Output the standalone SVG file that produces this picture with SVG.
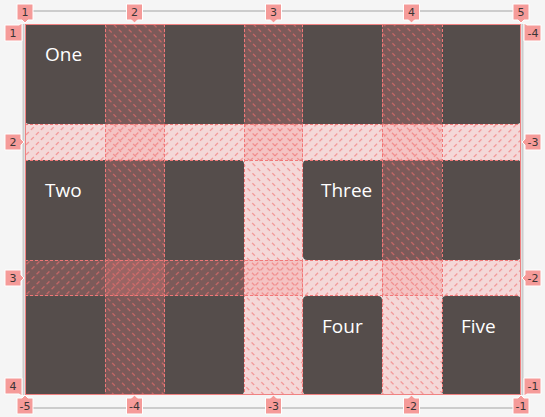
<svg xmlns="http://www.w3.org/2000/svg" width="545" height="417" viewBox="0 0 545 417">
  <defs>
    <pattern id="hatchCol" patternUnits="userSpaceOnUse" width="7" height="7.071" patternTransform="rotate(45)">
      <rect x="0" y="0" width="4" height="1.1" fill="rgb(240,110,110)" fill-opacity="0.75"/>
    </pattern>
    <pattern id="hatchRow" patternUnits="userSpaceOnUse" width="7" height="7.071" patternTransform="rotate(-45)">
      <rect x="0" y="0" width="4" height="1.1" fill="rgb(240,110,110)" fill-opacity="0.75"/>
    </pattern>
    <style>
      .item { fill: #554d4b; }
      .itxt { font-family: "Open Sans", "DejaVu Sans", sans-serif; font-size: 19px; fill: #ffffff; }
      .gap { fill: rgb(245,130,130); fill-opacity: 0.25; }
      .dash { stroke: rgb(240,120,120); stroke-width: 1; stroke-dasharray: 3 2; fill: none; }
      .track { stroke: #cccccc; stroke-width: 2; fill: none; }
      .lbl { fill: #f59b99; stroke: #ffffff; stroke-width: 1; }
      .ltxt { font-family: "DejaVu Sans", sans-serif; font-size: 11px; fill: #3a3535; text-anchor: middle; }
    </style>
  </defs>

  <rect x="0" y="0" width="545" height="417" fill="#f5f5f5"/>

  <!-- rulers -->
  <g id="rulers">
    <line class="track" x1="25" y1="11" x2="521" y2="11"/>
    <line class="track" x1="25" y1="408" x2="521" y2="408"/>
    <line class="track" x1="23.5" y1="24" x2="23.5" y2="395"/>
    <line class="track" x1="522.5" y1="24" x2="522.5" y2="395"/>
  </g>

  <!-- grid items -->
  <g id="item-one">
    <rect class="item" x="25" y="24" width="496" height="100" rx="4"/>
    <text class="itxt" x="45" y="61">One</text>
  </g>
  <g id="item-two">
    <rect class="item" x="25" y="160" width="219" height="235" rx="4"/>
    <text class="itxt" x="45" y="197">Two</text>
  </g>
  <g id="item-three">
    <rect class="item" x="303" y="160" width="218" height="100" rx="4"/>
    <text class="itxt" x="321" y="197">Three</text>
  </g>
  <g id="item-four">
    <rect class="item" x="303" y="296" width="79" height="99" rx="4"/>
    <text class="itxt" x="322" y="333">Four</text>
  </g>
  <g id="item-five">
    <rect class="item" x="442" y="296" width="79" height="99" rx="4"/>
    <text class="itxt" x="461" y="333">Five</text>
  </g>

  <!-- gap overlays -->
  <g id="gaps">
    <rect class="gap" x="105" y="24" width="60" height="371"/>
    <rect class="gap" x="244" y="24" width="59" height="371"/>
    <rect class="gap" x="382" y="24" width="60" height="371"/>
    <rect class="gap" x="25" y="124" width="496" height="36"/>
    <rect class="gap" x="25" y="260" width="496" height="36"/>
    <rect fill="url(#hatchCol)" x="105" y="24" width="60" height="371"/>
    <rect fill="url(#hatchCol)" x="244" y="24" width="59" height="371"/>
    <rect fill="url(#hatchCol)" x="382" y="24" width="60" height="371"/>
    <rect fill="url(#hatchRow)" x="25" y="124" width="496" height="36"/>
    <rect fill="url(#hatchRow)" x="25" y="260" width="496" height="36"/>
  </g>

  <!-- grid lines -->
  <g id="connectors">
    <line class="dash" x1="105.5" y1="24" x2="105.5" y2="395"/>
    <line class="dash" x1="164.5" y1="24" x2="164.5" y2="395"/>
    <line class="dash" x1="244.5" y1="24" x2="244.5" y2="395"/>
    <line class="dash" x1="302.5" y1="24" x2="302.5" y2="395"/>
    <line class="dash" x1="382.5" y1="24" x2="382.5" y2="395"/>
    <line class="dash" x1="442.5" y1="24" x2="442.5" y2="395"/>
    <line class="dash" x1="25" y1="124.5" x2="521" y2="124.5"/>
    <line class="dash" x1="25" y1="160.5" x2="521" y2="160.5"/>
    <line class="dash" x1="25" y1="260.5" x2="521" y2="260.5"/>
    <line class="dash" x1="25" y1="295.5" x2="521" y2="295.5"/>
    <rect x="25.5" y="24.5" width="495" height="370" fill="none" stroke="rgb(240,130,130)" stroke-width="1"/>
  </g>

  <!-- top labels -->
  <g id="labels-top">
    <path class="lbl" d="M17,4 h16 v16 h-5 l-3,3 l-3,-3 h-5 z"/><text class="ltxt" x="25" y="16">1</text>
    <path class="lbl" d="M126.5,4 h16 v16 h-5 l-3,3 l-3,-3 h-5 z"/><text class="ltxt" x="134.5" y="16">2</text>
    <path class="lbl" d="M265.5,4 h16 v16 h-5 l-3,3 l-3,-3 h-5 z"/><text class="ltxt" x="273.5" y="16">3</text>
    <path class="lbl" d="M403.5,4 h16 v16 h-5 l-3,3 l-3,-3 h-5 z"/><text class="ltxt" x="411.5" y="16">4</text>
    <path class="lbl" d="M513,4 h16 v16 h-5 l-3,3 l-3,-3 h-5 z"/><text class="ltxt" x="521" y="16">5</text>
  </g>
  <!-- bottom labels -->
  <g id="labels-bottom">
    <path class="lbl" d="M17,414 h16 v-16 h-5 l-3,-3 l-3,3 h-5 z"/><text class="ltxt" x="25" y="410">-5</text>
    <path class="lbl" d="M126.5,414 h16 v-16 h-5 l-3,-3 l-3,3 h-5 z"/><text class="ltxt" x="134.5" y="410">-4</text>
    <path class="lbl" d="M265.5,414 h16 v-16 h-5 l-3,-3 l-3,3 h-5 z"/><text class="ltxt" x="273.5" y="410">-3</text>
    <path class="lbl" d="M403.5,414 h16 v-16 h-5 l-3,-3 l-3,3 h-5 z"/><text class="ltxt" x="411.5" y="410">-2</text>
    <path class="lbl" d="M513,414 h16 v-16 h-5 l-3,-3 l-3,3 h-5 z"/><text class="ltxt" x="521" y="410">-1</text>
  </g>
  <!-- left labels -->
  <g id="labels-left">
    <path class="lbl" d="M5,25 h14 l3,-2 l0,4 v14 h-17 z"/><text class="ltxt" x="13" y="37">1</text>
    <path class="lbl" d="M5,134 h16 v5 l3,3 l-3,3 v5 h-16 z"/><text class="ltxt" x="13" y="146">2</text>
    <path class="lbl" d="M5,270 h16 v5 l3,3 l-3,3 v5 h-16 z"/><text class="ltxt" x="13" y="282">3</text>
    <path class="lbl" d="M5,378 h17 v14 l0,4 l-3,-2 h-14 z"/><text class="ltxt" x="13" y="390">4</text>
  </g>
  <!-- right labels -->
  <g id="labels-right">
    <path class="lbl" d="M541,25 h-14 l-3,-2 l0,4 v14 h17 z"/><text class="ltxt" x="533" y="37">-4</text>
    <path class="lbl" d="M541,134 h-16 v5 l-3,3 l3,3 v5 h16 z"/><text class="ltxt" x="533" y="146">-3</text>
    <path class="lbl" d="M541,270 h-16 v5 l-3,3 l3,3 v5 h16 z"/><text class="ltxt" x="533" y="282">-2</text>
    <path class="lbl" d="M541,378 h-17 v14 l0,4 l3,-2 h14 z"/><text class="ltxt" x="533" y="390">-1</text>
  </g>
</svg>
